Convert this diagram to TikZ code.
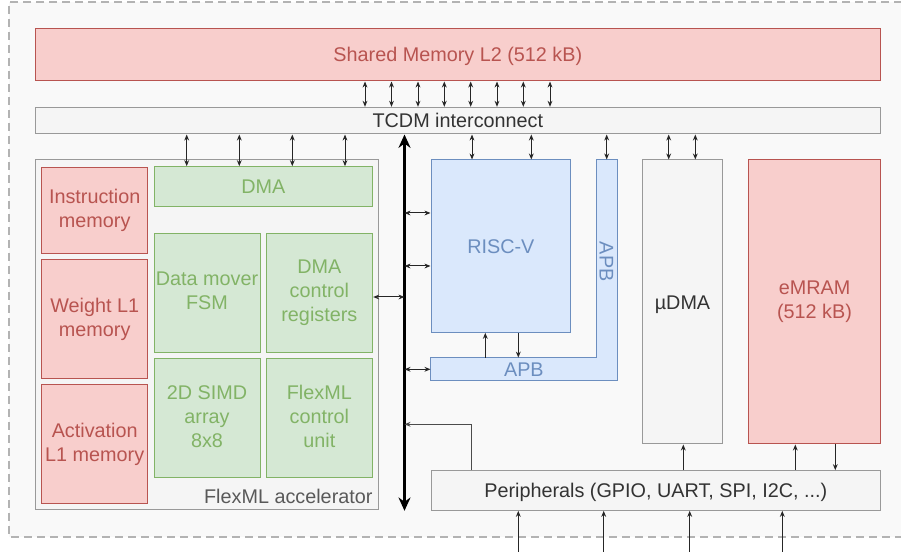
\documentclass[tikz,border=0pt]{standalone}
\usepackage{fontspec}
\setmainfont{Liberation Sans}
\usetikzlibrary{arrows.meta}

\definecolor{memfill}{HTML}{F8CECC}
\definecolor{memline}{HTML}{B85450}
\definecolor{accfill}{HTML}{D5E8D4}
\definecolor{accline}{HTML}{82B366}
\definecolor{cpufill}{HTML}{DAE8FC}
\definecolor{cpuline}{HTML}{6C8EBF}
\definecolor{sysfill}{HTML}{F5F5F5}
\definecolor{sysline}{HTML}{999999}
\definecolor{systext}{HTML}{333333}
\definecolor{chipbg}{HTML}{F9F9F9}
\definecolor{chipline}{HTML}{B3B3B3}

\tikzset{every picture/.style={line width=0.75pt}}
\tikzset{
  sz/.style 2 args={minimum width=#1*0.75pt,minimum height=#2*0.75pt},
  blk/.style={rectangle,inner sep=0pt,align=center,font=\fontsize{14.85}{18}\selectfont,
    execute at begin node=\rule{0pt}{13.7pt},execute at end node=\vphantom{y}},
  multi/.style={execute at begin node=\rule{0pt}{16.9pt}},
  memblk/.style={blk,draw=memline,fill=memfill,text=memline},
  accblk/.style={blk,draw=accline,fill=accfill,text=accline},
  cpublk/.style={blk,draw=cpuline,fill=cpufill,text=cpuline},
  sysblk/.style={blk,draw=sysline,fill=sysfill,text=systext},
  link/.style={<->,draw=black!85},
  busline/.style={line width=2pt,{Stealth[length=10pt,width=9pt]}-{Stealth[length=10pt,width=9pt]}}
}

\begin{document}
\begin{tikzpicture}[x=0.75pt,y=0.75pt,yscale=-1,xscale=1,>={Stealth[length=4.5pt,width=3.6pt]}]
\useasboundingbox (0,0) rectangle (901,552);

% chip outline
\fill[chipbg] (9,2) rectangle (915,537);
\draw[chipline,line width=1.5pt,dash pattern=on 6pt off 3.75pt] (915,2) -- (9,2) -- (9,537) -- (915,537);

% memory and interconnect
\node[memblk,sz={845.7}{52.7}] (l2) at (457.85,54.65) {Shared Memory L2 (512 kB)};
\node[sysblk,sz={845.7}{26.7}] (tcdm) at (457.85,120.65) {TCDM interconnect};

% FlexML accelerator
\node[sysblk,sz={343.7}{350}] (flexml) at (206.85,335) {};
\node[blk,anchor=east,text=black!65] (flexmllbl) at (373,496.7) {FlexML accelerator};
\node[accblk,sz={218.7}{40}] (dma) at (263.35,186.7) {DMA};
\node[memblk,multi,sz={106}{86}] (imem) at (94.7,210.3) {Instruction\\memory};
\node[memblk,multi,sz={106}{119.4}] (wmem) at (94.7,319) {Weight L1\\memory};
\node[memblk,multi,sz={106}{119.2}] (amem) at (94.7,443.9) {Activation\\L1 memory};
\node[accblk,multi,sz={106}{119.4}] (dmfsm) at (207,293) {Data mover\\FSM};
\node[accblk,multi,sz={106.7}{119.4}] (dmaregs) at (319.35,293) {DMA\\control\\registers};
\node[accblk,multi,sz={106}{119}] (simd) at (207,418.2) {2D SIMD\\array\\8x8};
\node[accblk,multi,sz={106.7}{119}] (ctrl) at (319.35,418.2) {FlexML\\control\\unit};

% RISC-V and APB
\node[cpublk,sz={139.7}{172.3}] (riscv) at (500.85,246.15) {RISC-V};
\node[blk,fill=cpufill,sz={20}{219.3}] (apbv) at (606.7,269.65) {};
\node[blk,fill=cpufill,text=cpuline,sz={185.7}{20}] (apbh) at (523.85,369.3) {APB};
\node[blk,text=cpuline,rotate=-90] (apbvlbl) at (606.7,261.7) {APB};
\draw[cpuline] (apbh.north west) -- (apbh.north -| apbv.west) -- (apbv.north west)
  -- (apbv.north east) -- (apbh.south east) -- (apbh.south west) -- cycle;

% uDMA, eMRAM, peripherals
\node[sysblk,sz={79.6}{284}] (udma) at (682.5,302) {µDMA};
\node[memblk,multi,sz={132.4}{284}] (emram) at (814.5,302) {eMRAM\\(512 kB)};
\node[sysblk,sz={449.7}{39.6}] (periph) at (655.85,490.5) {Peripherals (GPIO, UART, SPI, I2C, ...)};

% system bus
\coordinate (bus) at (404.5,0);
\draw[busline] (tcdm.south -| bus) -- (periph.south -| bus);

% TCDM links
\foreach \x in {365,391.5,418,444.3,470.7,497,523.3,550}
  \draw[link] (l2.south -| \x,0) -- (tcdm.north -| \x,0);
\foreach \x in {186.7,239.3,292.3,345}
  \draw[link] (tcdm.south -| \x,0) -- (dma.north -| \x,0);
\foreach \x in {472,531.3}
  \draw[link] (tcdm.south -| \x,0) -- (riscv.north -| \x,0);
\draw[link] (tcdm.south -| apbv) -- (apbv.north);
\foreach \x in {668.7,695.3}
  \draw[link] (tcdm.south -| \x,0) -- (udma.north -| \x,0);

% bus links
\draw[link] (bus |- 0,297) -- (dmaregs.east |- 0,297);
\foreach \y in {213,266}
  \draw[link] (bus |- 0,\y) -- (riscv.west |- 0,\y);
\draw[link] (bus |- apbh.west) -- (apbh.west);
\draw[->,draw=black!85] (apbh.north -| 485.3,0) -- (riscv.south -| 485.3,0);
\draw[->,draw=black!85] (riscv.south -| 518.3,0) -- (apbh.north -| 518.3,0);
\draw[->,draw=black!70] (periph.north -| 471.7,0) |- (bus |- 0,424.3);

% peripheral links
\draw[->,draw=black!85] (periph.north -| 683.3,0) -- (udma.south -| 683.3,0);
\draw[->,draw=black!85] (periph.north -| 795.3,0) -- (emram.south -| 795.3,0);
\draw[->,draw=black!85] (emram.south -| 835.3,0) -- (periph.north -| 835.3,0);
\foreach \x in {518.3,603.7,689.7,782.3}
  \draw[->,draw=black!85] (\x,552) -- (periph.south -| \x,0);

\end{tikzpicture}
\end{document}
